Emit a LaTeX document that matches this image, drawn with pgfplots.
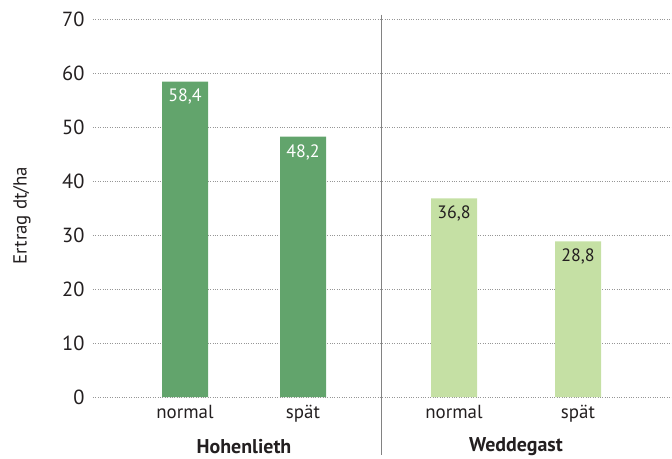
\documentclass[border=0pt]{standalone}
\usepackage{pgfplots}
\pgfplotsset{compat=1.18}
\usepackage{fontspec}
\setmainfont{PT Sans}
\definecolor{darkbar}{RGB}{98,164,108}
\definecolor{lightbar}{RGB}{197,224,164}
\definecolor{txt}{RGB}{35,31,32}
\definecolor{gridc}{RGB}{150,150,150}
\definecolor{sepc}{RGB}{130,130,130}

\pgfplotstableread{
x   y
92  58.4
210 48.2
}\hohenlieth
\pgfplotstableread{
x   y
361 36.8
485 28.8
}\weddegast

\begin{document}
\begin{tikzpicture}[font=\fontsize{19}{22}\selectfont, text=txt]
\begin{axis}[
  at={(0,0)}, anchor=south west,
  scale only axis, width=579bp, height=378bp,
  xmin=0, xmax=579, ymin=0, ymax=70,
  axis line style={draw=none},
  clip=false,
  ytick={0,10,...,70},
  xtick={92,210,361,485},
  xticklabels={normal,spät,normal,spät},
  /pgf/number format/assume math mode=true,
  ymajorgrids,
  grid style={gridc, dotted, line width=0.5pt},
  bar width=46,
  ybar, bar shift=0pt,
  tick style={draw=none},
  tick label style={text=txt},
  yticklabel style={xshift=-5bp, font=\fontsize{20.5}{24}\selectfont},
  ylabel={Ertrag dt/ha},
  ylabel style={at={(axis description cs:-0.1226,0.48)}, anchor=center},
  nodes near coords={\pgfmathprintnumber[use comma,fixed,fixed zerofill,precision=1]{\pgfplotspointmeta}},
  every node near coord/.append style={anchor=north, yshift=-4bp, font=\fontsize{18}{21}\selectfont},
]
  % separator between the two sites
  \draw[sepc, line width=0.8pt] (axis cs:288,70.8) -- (axis cs:288,-10.7);
  \addplot[fill=darkbar, draw=none, every node near coord/.append style={text=white}] table {\hohenlieth};
  \addplot[fill=lightbar, draw=none, every node near coord/.append style={text=txt}] table {\weddegast};
  \node[font=\fontsize{20}{23}\bfseries] at (axis cs:151,-9.1) {Hohenlieth};
  \node[font=\fontsize{20}{23}\bfseries] at (axis cs:423,-9.1) {Weddegast};
\end{axis}
\pgfresetboundingbox
\useasboundingbox (-93bp,-62bp) rectangle (579bp,397bp);
\end{tikzpicture}
\end{document}
